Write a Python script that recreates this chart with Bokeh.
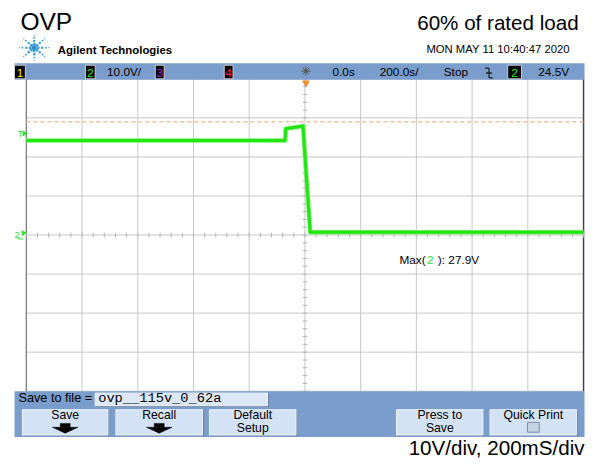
import math
from bokeh.plotting import figure
from bokeh.models import Range1d
from bokeh.embed import file_html
from bokeh.resources import INLINE
from bokeh.core.properties import value

# ---------------- data ----------------
time_s = [-1.0, -0.071, -0.069, -0.007, 0.019, 1.0]      # seconds
ch2_volts = [24.2, 24.2, 27.2, 27.9, 0.7, 0.7]           # volts
time_grid = [-1.0, -0.8, -0.6, -0.4, -0.2, 0.0, 0.2, 0.4, 0.6, 0.8, 1.0]
volt_grid = [-40, -30, -20, -10, 0, 10, 20, 30, 40]
cursor_level = 29.0
title = "OVP"
subtitle = "60% of rated load"
timestamp = "MON MAY 11 10:40:47 2020"
scale_note = "10V/div, 200mS/div"
max_value = "27.9V"
file_name = "ovp__115v_0_62a"

# ---------------- layout helpers (reference px -> data) ----------------
def X(px):
    return -1.0 + (px - 28) / 283.0

def Y(py):
    return (241 - py) / 4.0

W, H = 586, 459
SX, OX = 0.9845, -1.75
SY, OY = 0.976, -0.69
FS = 0.98
p = figure(width=W, height=H,
           x_range=Range1d(X((0 - OX) / SX), X((W - OX) / SX)),
           y_range=Range1d(Y((H - OY) / SY), Y((0 - OY) / SY)),
           output_backend="svg", toolbar_location=None, min_border=0,
           x_axis_type=None, y_axis_type=None, outline_line_color=None,
           background_fill_color="white", border_fill_color="white")
p.grid.visible = False

def box(x0, y0, x1, y1, fill, line=None, lw=1):
    p.quad(left=[X(x0)], right=[X(x1)], top=[Y(y0)], bottom=[Y(y1)],
           fill_color=fill, line_color=line, line_width=lw)

def txt(px, py, s, size, color="black", align="left", font="Liberation Sans", style="normal"):
    # py is the baseline; place by the middle of the em box
    p.text(x=[X(px)], y=[Y(py - 0.35 * size)], text=[s], text_font=value(font),
           text_font_size=f"{size * FS:.1f}px", text_color=color, text_align=align,
           text_baseline="middle", text_font_style=style)

def seg(x0, y0, x1, y1, color, lw=1):
    p.segment(x0=[X(x0)], y0=[Y(y0)], x1=[X(x1)], y1=[Y(y1)], line_color=color, line_width=lw)

BAR = "#7b9dcb"

# ---------------- grid ----------------
n = len(time_grid)
p.segment(x0=time_grid, y0=[volt_grid[0]] * n, x1=time_grid, y1=[volt_grid[-1]] * n,
          line_color="#c8c8c8", line_width=1)
m = len(volt_grid)
p.segment(x0=[time_grid[0]] * m, y0=volt_grid, x1=[time_grid[-1]] * m, y1=volt_grid,
          line_color="#c8c8c8", line_width=1)
p.segment(x0=[time_grid[0]], y0=[volt_grid[0]], x1=[time_grid[0]], y1=[volt_grid[-1]],
          line_color="#7a7a7a", line_width=1.2)
p.segment(x0=[time_grid[-1]], y0=[volt_grid[0]], x1=[time_grid[-1]], y1=[volt_grid[-1]],
          line_color="#3c4656", line_width=1.5)
# centre-line minor ticks
tx = [time_grid[0] + 0.04 * k for k in range(51)]
p.segment(x0=tx, y0=[-0.6] * len(tx), x1=tx, y1=[0.6] * len(tx), line_color="#b4b4b4", line_width=1)
ty = [volt_grid[0] + 2 * k for k in range(41)]
p.segment(x0=[-0.008] * len(ty), y0=ty, x1=[0.008] * len(ty), y1=ty, line_color="#b4b4b4", line_width=1)

# cursor / marker line
p.segment(x0=[time_grid[0]], y0=[cursor_level], x1=[time_grid[-1]], y1=[cursor_level],
          line_color="#f7c295", line_width=1.5, line_dash="4 3")

# ---------------- trace ----------------
p.line(time_s, ch2_volts, line_color="#7cf26c", line_width=4.5, line_join="round")
p.line(time_s, ch2_volts, line_color="#22e612", line_width=3, line_join="round")

# ---------------- header ----------------
txt(22, 31, title, 25)
txt(589, 31, subtitle, 21, align="right")
txt(580, 54, timestamp, 11.5, align="right")
txt(60, 55, "Agilent Technologies", 11.6, style="bold")
# logo starburst
lx, ly, ls = [], [], []
for k in range(8):
    a = k * math.pi / 4
    for r, s in [(4, 3.0), (8, 2.5), (12, 1.9), (15, 1.3)]:
        lx.append(X(36 + r * math.cos(a)))
        ly.append(Y(49 + r * math.sin(a) * 0.85))
        ls.append(s)
p.scatter(lx, ly, size=ls, marker="circle", fill_color="#3d9fd6", line_color=None)
p.scatter([X(36)], [Y(49)], size=4.5, marker="circle", fill_color="#2a86c4", line_color=None)

# blue status bar
box(16, 65, 595, 82, BAR)
for (x0, x1, lab, col) in [(16, 27, "1", "#f0f000"), (88, 98, "2", "#22ee22"),
                           (159, 168, "3", "#a020f0"), (229, 238, "4", "#ff2070"),
                           (517, 531, "2", "#22ee22")]:
    box(x0, 67, x1, 81, "black", "#d0d0d0")
    txt((x0 + x1) / 2, 79, lab, 12, color=col, align="center")
txt(110, 78, "10.0V/", 12)
txt(339, 78, "0.0s", 12)
txt(387, 78, "200.0s/", 12)
txt(452, 78, "Stop", 12)
txt(548, 78, "24.5V", 12)
p.scatter([X(312)], [Y(73)], marker="asterisk", size=9, line_color="#555555", line_width=1)
p.scatter([X(312)], [Y(73)], marker="circle", size=3, fill_color="#555555", line_color=None)
seg(494, 70, 498, 70, "#222222", 1.3)
seg(498, 70, 498, 80, "#222222", 1.3)
seg(498, 80, 502, 80, "#222222", 1.3)
seg(495, 75, 501, 75, "#222222", 1.3)
# trigger position marker
p.scatter([X(312)], [Y(85)], marker="inverted_triangle", size=8, fill_color="#f08a24", line_color=None)

# channel markers on left
txt(19, 140, "T", 10, color="#33dd33")
p.scatter([X(26)], [Y(137)], marker="triangle", angle=-math.pi / 2, size=6,
          fill_color="#33dd33", line_color=None)
txt(16, 244, "2", 10, color="#33dd33")
p.scatter([X(25)], [Y(239)], marker="triangle", angle=-math.pi / 2, size=6,
          fill_color="#33dd33", line_color=None)
seg(19, 245, 25, 245, "#33dd33", 1)

# measurement
txt(407, 271, "Max(", 12)
txt(435, 271, "2", 12, color="#33dd33")
txt(446, 271, "): " + max_value, 12)

# ---------------- bottom soft-key panel ----------------
box(16, 401, 595, 448, BAR)
txt(20, 413, "Save to file =", 13)
box(99, 404, 274, 417, "#4f5f78")
box(98, 403, 273, 416, "#dde8f6", "#f4f8fd")
txt(101, 413, file_name, 14, font="Liberation Mono")

buttons = [(24, 111, ["Save"], "arrow"), (119, 207, ["Recall"], "arrow"),
           (214, 302, ["Default", "Setup"], None), (404, 492, ["Press to", "Save"], None),
           (499, 587, ["Quick Print"], "box")]
for (x0, x1, lines, icon) in buttons:
    box(x0 + 1, 421, x1 + 1, 447, "#52647f")
    box(x0, 420, x1, 446, "#d3e2f5", "#eef4fc")
    cx = (x0 + x1) / 2
    for i, s in enumerate(lines):
        txt(cx, 430 + 13.5 * i, s, 12.5, align="center")
    if icon == "arrow":
        p.patches(xs=[[X(cx - 5), X(cx + 5), X(cx + 5), X(cx - 5)],
                      [X(cx - 13), X(cx + 13), X(cx)]],
                  ys=[[Y(434), Y(434), Y(438), Y(438)], [Y(438), Y(438), Y(444)]],
                  fill_color="black", line_color="black", line_width=0.5)
    elif icon == "box":
        box(cx - 6, 433, cx + 6, 443, "#c7d4e6", "#7f8ea4")

txt(595, 466, scale_note, 21, align="right")

open("out.html", "w").write(file_html(p, INLINE))
